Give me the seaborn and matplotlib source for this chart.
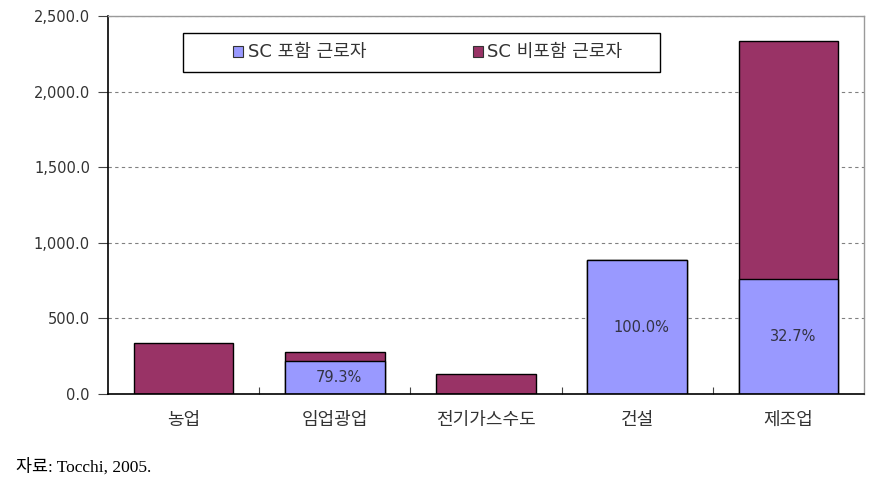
import numpy as np
import pandas as pd
import seaborn as sns
import matplotlib.pyplot as plt
from matplotlib.patches import Rectangle, Patch
from matplotlib.ticker import FuncFormatter, FixedLocator

# data
categories = ["농업", "임업광업", "전기가스수도", "건설", "제조업"]
sc_workers = [0.0, 219.0, 0.0, 886.0, 763.0]        # SC 포함 근로자
non_sc_workers = [335.0, 57.0, 132.0, 0.0, 1570.0]  # SC 비포함 근로자
pct_labels = ["", "79.3%", "", "100.0%", "32.7%"]

blue = "#9999FF"
maroon = "#993366"

sns.set_theme(style="white")
plt.rcParams["font.family"] = ["DejaVu Sans", "Noto Sans CJK KR"]

df = pd.DataFrame({
    "category": categories,
    "sc": sc_workers,
    "total": np.array(sc_workers) + np.array(non_sc_workers),
})

fig = plt.figure(figsize=(8.8, 4.96), dpi=100)
ax = fig.add_axes([108 / 880, 1 - 394 / 496, (864 - 108) / 880, (394 - 16) / 496])

# stacked bars: total in maroon, SC part in blue on top of it
sns.barplot(data=df, x="category", y="total", color=maroon, saturation=1,
            edgecolor="black", linewidth=1, width=0.66, ax=ax)
sns.barplot(data=df, x="category", y="sc", color=blue, saturation=1,
            edgecolor="black", linewidth=1, width=0.66, ax=ax)

# percentage labels in the middle of the SC part
for i, (v, lab) in enumerate(zip(df["sc"], pct_labels)):
    if lab:
        ax.text(i + 0.03, v / 2, lab, ha="center", va="center", fontsize=10.5, color="#333344")

ax.set_ylim(0, 2500)
ax.set_xlim(-0.5, len(categories) - 0.5)
ax.set_yticks(np.arange(0, 2501, 500))
ax.yaxis.set_major_formatter(FuncFormatter(lambda v, p: f"{v:,.1f}"))
ax.yaxis.grid(True, linestyle=(0, (3, 3)), color="#808080", linewidth=0.8)
ax.set_axisbelow(True)
ax.set_xlabel("")
ax.set_ylabel("")

ax.tick_params(axis="y", left=True, length=7, width=0.8, color="#444444",
               pad=6, labelsize=10.5, labelcolor="#333333")
ax.tick_params(axis="x", which="major", length=0, pad=12, labelsize=13, labelcolor="#333333")
ax.xaxis.set_minor_locator(FixedLocator(np.arange(0.5, len(categories) - 0.5, 1)))
ax.tick_params(axis="x", which="minor", bottom=True, direction="in", length=5,
               width=0.8, color="#444444")

for side in ["left", "bottom"]:
    ax.spines[side].set_color("black")
    ax.spines[side].set_linewidth(1.2)
for side in ["top", "right"]:
    ax.spines[side].set_visible(True)
    ax.spines[side].set_color("#9a9a9a")
    ax.spines[side].set_linewidth(1)

# legend box
fig.patches.append(Rectangle((183 / 880, 1 - 72 / 496), 477 / 880, 39 / 496,
                             transform=fig.transFigure, facecolor="white",
                             edgecolor="black", linewidth=1, zorder=5))
handles = [Patch(facecolor=blue, edgecolor="#333333", linewidth=0.8),
           Patch(facecolor=maroon, edgecolor="#333333", linewidth=0.8)]
fig.legend(handles, ["SC 포함 근로자", "SC 비포함 근로자"], ncol=2,
           loc="center", bbox_to_anchor=(428 / 880, 1 - 52.5 / 496),
           frameon=False, fontsize=13, handlelength=0.55, handleheight=0.55,
           handletextpad=0.25, columnspacing=5.9, labelcolor="#333333")

fig.text(16 / 880, 1 - 467 / 496, "자료: Tocchi, 2005.",
         family=["Liberation Serif", "Noto Sans CJK KR"], fontsize=12.5,
         ha="left", va="center", color="black")

fig.savefig("out.png", dpi=100, facecolor="white")
